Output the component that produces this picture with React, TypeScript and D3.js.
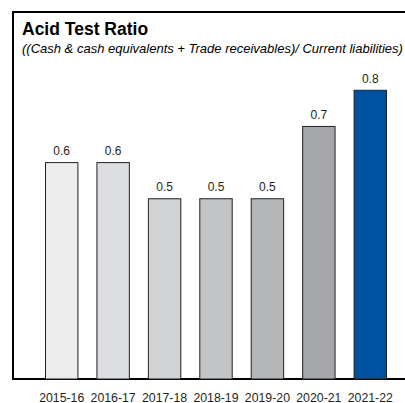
import React from "react";
import * as d3 from "d3";

const categories = ["2015-16", "2016-17", "2017-18", "2018-19", "2019-20", "2020-21", "2021-22"];
const values = [0.6, 0.6, 0.5, 0.5, 0.5, 0.7, 0.8];
const valueLabels = ["0.6", "0.6", "0.5", "0.5", "0.5", "0.7", "0.8"];
const barColors = ["#ededed", "#dddee0", "#d1d2d4", "#c3c4c6", "#b4b6b8", "#a5a7aa", "#00519f"];
const title = "Acid Test Ratio";
const subtitle = "((Cash & cash equivalents + Trade receivables)/ Current liabilities)";

const W = 405;
const H = 403;
const FONT = "'Liberation Sans', Arial, Helvetica, sans-serif";

export default function App() {
  const baseline = 379;
  const x = d3
    .scaleBand<string>()
    .domain(categories)
    .range([35.5, 395.5])
    .paddingInner(0.37)
    .paddingOuter(0.185);
  const y = d3.scaleLinear().domain([0, 1]).range([baseline, 17.5]);

  return (
    <svg
      width={W}
      height={H}
      style={{ position: "absolute", left: 0, top: 0, background: "#fff" }}
      fontFamily={FONT}
    >
      <rect x={0} y={0} width={W} height={H} fill="#fff" />
      {/* frame */}
      <line x1={13} y1={12} x2={W + 5} y2={12} stroke="#000" strokeWidth={2} />
      <line x1={13} y1={11} x2={13} y2={baseline + 1} stroke="#000" strokeWidth={2} />
      <line x1={12} y1={baseline} x2={W + 5} y2={baseline} stroke="#000" strokeWidth={2} />

      <text x={22} y={35} fontSize={17.5} fontWeight="bold" fill="#000">
        {title}
      </text>
      <text x={22} y={53} fontSize={13} fontStyle="italic" fill="#000">
        {subtitle}
      </text>

      {categories.map((c, i) => {
        const bx = x(c)!;
        const bw = x.bandwidth();
        const top = y(values[i]);
        return (
          <g key={c}>
            <rect
              x={bx + 0.5}
              y={top + 0.5}
              width={bw}
              height={baseline - top - 0.5}
              fill={barColors[i]}
              stroke="#231f20"
              strokeWidth={1}
            />
            <text
              x={bx + bw / 2 + 0.5}
              y={top - 7}
              fontSize={12}
              textAnchor="middle"
              fill="#231f20"
            >
              {valueLabels[i]}
            </text>
            <text
              x={bx + bw / 2 + 0.5}
              y={401.5}
              fontSize={12.3}
              textAnchor="middle"
              fill="#231f20"
            >
              {c}
            </text>
          </g>
        );
      })}
    </svg>
  );
}
